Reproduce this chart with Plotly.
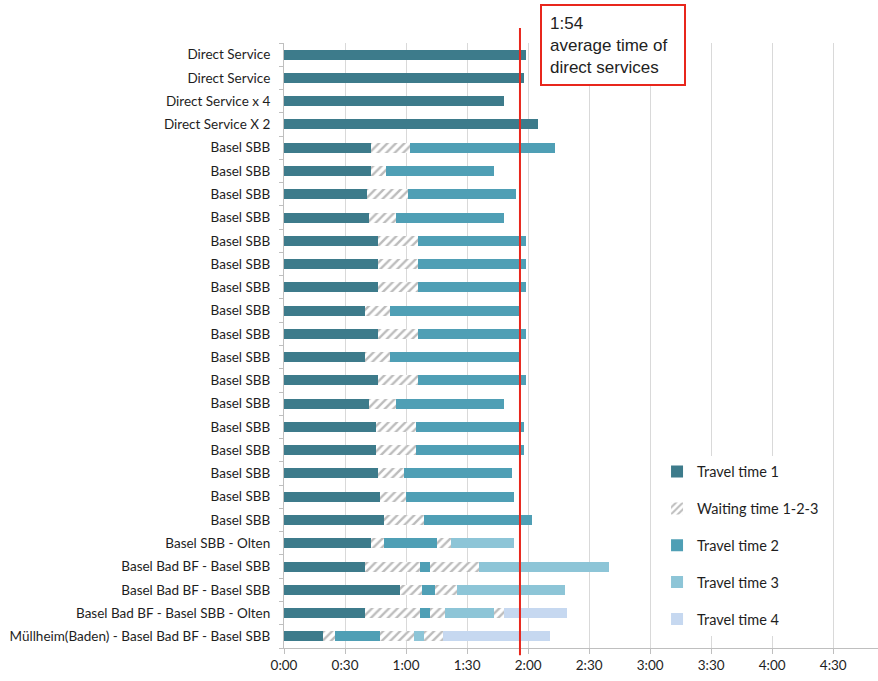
import plotly.graph_objects as go

labels = ["Direct Service", "Direct Service", "Direct Service x 4", "Direct Service X 2"] + \
    ["Basel SBB"] * 17 + \
    ["Basel SBB - Olten", "Basel Bad BF - Basel SBB", "Basel Bad BF - Basel SBB",
     "Basel Bad BF - Basel SBB - Olten", "Müllheim(Baden) - Basel Bad BF - Basel SBB"]

# minutes
travel1 = [119, 118, 108, 125,
           43, 43, 41, 42, 46, 46, 46, 40, 46, 40, 46, 42, 45, 45, 46, 47, 49,
           43, 40, 57, 40, 19]
wait1 = [0, 0, 0, 0,
         19, 7, 20, 13, 20, 20, 20, 12, 20, 12, 20, 13, 20, 20, 13, 13, 20,
         6, 27, 11, 27, 6]
travel2 = [0, 0, 0, 0,
           71, 53, 53, 53, 53, 53, 53, 64, 53, 64, 53, 53, 53, 53, 53, 53, 53,
           26, 5, 6, 5, 22]
wait2 = [0] * 21 + [7, 24, 11, 7, 17]
travel3 = [0] * 21 + [31, 64, 53, 24, 5]
wait3 = [0] * 24 + [5, 9]
travel4 = [0] * 24 + [31, 53]

tick_minutes = [0, 30, 60, 90, 120, 150, 180, 210, 240, 270]
tick_labels = ["0:00", "0:30", "1:00", "1:30", "2:00", "2:30", "3:00", "3:30", "4:00", "4:30"]
avg_direct_minutes = 116
avg_text = "1:54<br>average time of<br>direct services"

c1 = "#3d7b8b"
c2 = "#4f9fb5"
c3 = "#8dc5d7"
c4 = "#c6d8f0"
hatch = dict(shape="/", fgcolor="#7a7a7a", bgcolor="white", size=6, solidity=0.4)

y = list(range(len(labels)))
fig = go.Figure()

def add(vals, name, color, group, show=True, pattern=None):
    m = dict(color=color, line=dict(width=0))
    if pattern:
        m["pattern"] = pattern
    fig.add_trace(go.Bar(x=vals, y=y, orientation="h", name=name, marker=m,
                         legendgroup=group, showlegend=show))

add(travel1, "Travel time 1", c1, "t1")
add(wait1, "Waiting time 1-2-3", "white", "w", pattern=hatch)
add(travel2, "Travel time 2", c2, "t2")
add(wait2, "Waiting time 1-2-3", "white", "w", show=False, pattern=hatch)
add(travel3, "Travel time 3", c3, "t3")
add(wait3, "Waiting time 1-2-3", "white", "w", show=False, pattern=hatch)
add(travel4, "Travel time 4", c4, "t4")

fig.update_layout(
    width=878, height=681,
    margin=dict(l=284, r=0, t=43, b=33),
    barmode="stack", bargap=0.57,
    plot_bgcolor="white", paper_bgcolor="white",
    font=dict(family="Lato, Carlito, Calibri, sans-serif", color="#1e1e1e"),
    showlegend=True,
    legend=dict(x=0.628, y=0.318, xanchor="left", yanchor="top",
                bgcolor="white", font=dict(size=14.5, color="#1e1e1e"),
                traceorder="grouped", tracegroupgap=15, itemwidth=30),
)
fig.update_xaxes(range=[0, 292], tickvals=tick_minutes, ticktext=tick_labels,
                 showgrid=True, gridcolor="#d9d9d9", gridwidth=1,
                 showline=True, linecolor="#bfbfbf", ticks="outside", ticklen=5,
                 tickcolor="#bfbfbf", tickfont=dict(size=13.5, color="#1e1e1e"),
                 zeroline=False)
fig.update_yaxes(range=[len(labels) - 0.5, -0.5], tickvals=y, ticktext=labels,
                 showgrid=False, showline=True, linecolor="#bfbfbf", ticks="",
                 tickfont=dict(size=13.5, color="#1e1e1e"), ticklabelstandoff=10,
                 minor=dict(tickmode="array", tickvals=[i - 0.5 for i in range(len(labels) + 1)],
                            ticks="outside", ticklen=4, tickcolor="#bfbfbf", showgrid=False),
                 zeroline=False)

# white backing behind the legend (covers gridlines like the original legend box)
fig.add_shape(type="rect", xref="paper", yref="paper", x0=0.635, x1=0.915, y0=0.0, y1=0.352,
              fillcolor="white", line=dict(width=0), layer="between")

fig.add_shape(type="line", xref="x", yref="paper", x0=avg_direct_minutes, x1=avg_direct_minutes,
              y0=-0.012, y1=1.025, line=dict(color="#e8261c", width=2), layer="above")

fig.add_annotation(xref="paper", yref="paper", x=(540 - 284) / 594, y=(648 - 4) / 605,
                   xanchor="left", yanchor="top", text=avg_text, showarrow=False,
                   align="left", valign="top", width=126, height=62, borderpad=8,
                   bordercolor="#e8261c", borderwidth=2, bgcolor="white",
                   font=dict(family="Liberation Sans, Arial, sans-serif", size=17, color="#222222"))

fig.write_html("out.html")
